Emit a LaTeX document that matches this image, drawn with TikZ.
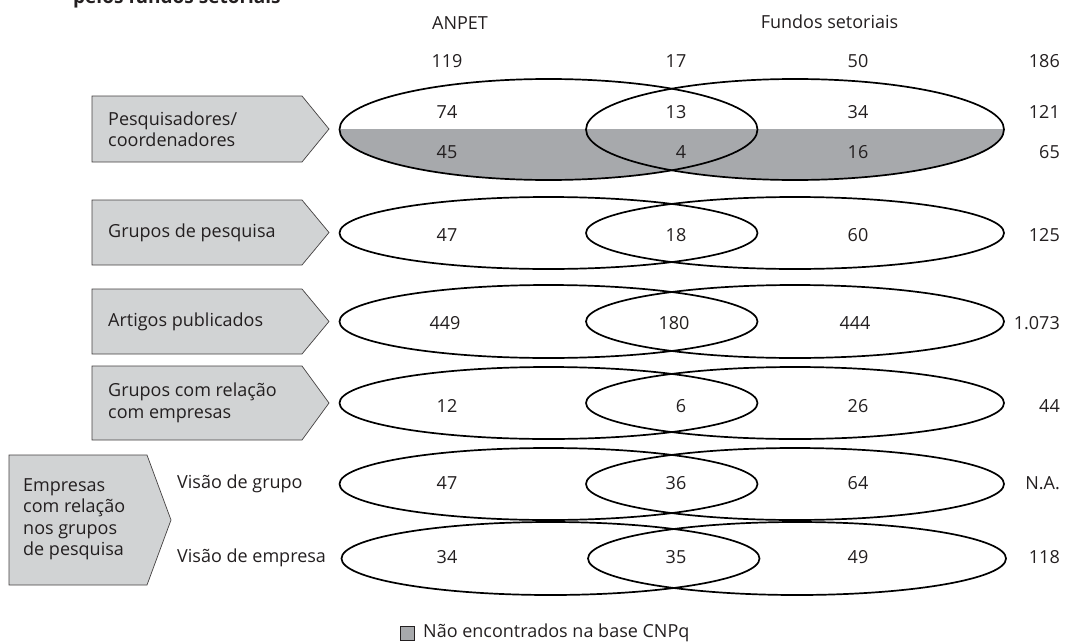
\documentclass[tikz,border=0pt]{standalone}
\usepackage{fontspec}
\setmainfont{Open Sans}
\usetikzlibrary{shapes.geometric}
\definecolor{boxgray}{HTML}{D1D3D4}
\definecolor{shadegray}{HTML}{A7A9AC}
\definecolor{inkgray}{HTML}{231F20}

\begin{document}
\begin{tikzpicture}[
    x=1pt, y=-1pt,
    every node/.style={text=inkgray, font=\fontsize{18}{21.5}\selectfont, inner sep=0pt},
    tagbox/.style={draw=inkgray!85, fill=boxgray, line width=0.7pt},
    tagtext/.style={anchor=west, align=left},
    venn/.style={draw=black, ellipse, line width=1.7pt, minimum width=418pt, minimum height=72pt},
    num/.style={anchor=base},
    total/.style={anchor=base east},
  ]
    \useasboundingbox (0,0) rectangle (1065,642);

    % title (cut at the top)
    \node[font=\fontsize{19}{22}\selectfont\bfseries, anchor=base west] (title) at (73,4) {pelos fundos setoriais};

    % column heads and totals
    \node[num] (hanpet) at (460,30) {ANPET};
    \node[num] (hfundos) at (829.5,29) {Fundos setoriais};
    \node[num]   (t1) at (447,67) {119};
    \node[num]   (t2) at (676,67) {17};
    \node[num]   (t3) at (858,67) {50};
    \node[total] (t4) at (1060,67) {186};

    % left labels
    \draw[tagbox] (92,96) -- (302,96) -- (329,129) -- (302,162) -- (92,162) -- cycle;
    \node[tagtext] (lpesq) at (108,129) {Pesquisadores/\\coordenadores};
    \draw[tagbox] (92,200) -- (302,200) -- (329,232.5) -- (302,265) -- (92,265) -- cycle;
    \node[tagtext] (lgrupos) at (108,232.5) {Grupos de pesquisa};
    \draw[tagbox] (92,289) -- (302,289) -- (329,321.5) -- (302,354) -- (92,354) -- cycle;
    \node[tagtext] (lartigos) at (108,321.5) {Artigos publicados};
    \draw[tagbox] (92,366) -- (302,366) -- (329,403) -- (302,440) -- (92,440) -- cycle;
    \node[tagtext] (lrelacao) at (108,403) {Grupos com relação\\com empresas};
    \draw[tagbox] (9,455) -- (147,455) -- (171,520) -- (147,585) -- (9,585) -- cycle;
    \node[tagtext] (lempresas) at (23,519) {Empresas\\com relação\\nos grupos\\de pesquisa};
    \node[tagtext] (vgrupo) at (177,484) {Visão de grupo};
    \node[tagtext] (vempresa) at (177,558) {Visão de empresa};

    % shaded half of first row
    \begin{scope}
      \clip (330,129.5) rectangle (1015,186);
      \fill[shadegray] (548.5,129.5) ellipse [x radius=209pt, y radius=50.5pt];
      \fill[shadegray] (795,129.5) ellipse [x radius=209pt, y radius=50.5pt];
    \end{scope}

    % ellipses
    \node[venn, minimum height=101pt] (a1) at (548.5,129.5) {};
    \node[venn, minimum height=101pt] (f1) at (795,129.5) {};
    \node[venn] (a2) at (548.5,233) {};
    \node[venn] (f2) at (795,233) {};
    \node[venn, minimum height=73pt] (a3) at (548.5,321.5) {};
    \node[venn, minimum height=73pt] (f3) at (795,321.5) {};
    \node[venn] (a4) at (548.5,403) {};
    \node[venn] (f4) at (795,403) {};
    \node[venn] (a5) at (548.5,484) {};
    \node[venn] (f5) at (795,484) {};
    \node[venn, minimum height=73pt] (a6) at (550.5,558.5) {};
    \node[venn, minimum height=73pt] (f6) at (797,558.5) {};

    % numbers
    \node[num]   (n11) at (447,118) {74};
    \node[num]   (n12) at (676,118) {13};
    \node[num]   (n13) at (858,118) {34};
    \node[total] (n14) at (1060,118) {121};
    \node[num]   (m11) at (447,158) {45};
    \node[num]   (m12) at (681,158) {4};
    \node[num]   (m13) at (858,158) {16};
    \node[total] (m14) at (1060,158) {65};

    \node[num]   (n21) at (447,241) {47};
    \node[num]   (n22) at (676,241) {18};
    \node[num]   (n23) at (858,241) {60};
    \node[total] (n24) at (1060,241) {125};

    \node[num]   (n31) at (445,329) {449};
    \node[num]   (n32) at (674,329) {180};
    \node[num]   (n33) at (855,329) {444};
    \node[total] (n34) at (1060,329) {1.073};

    \node[num]   (n41) at (447,412) {12};
    \node[num]   (n42) at (681,412) {6};
    \node[num]   (n43) at (858,412) {26};
    \node[total] (n44) at (1060,412) {44};

    \node[num]   (n51) at (447,489) {47};
    \node[num]   (n52) at (676,489) {36};
    \node[num]   (n53) at (858,489) {64};
    \node[total] (n54) at (1060,489) {N.A.};

    \node[num]   (n61) at (447,563) {34};
    \node[num]   (n62) at (676,563) {35};
    \node[num]   (n63) at (858,563) {49};
    \node[total] (n64) at (1060,563) {118};

    % legend
    \node[draw=inkgray, fill=shadegray, line width=0.6pt, minimum size=14pt] (key) at (407,633) {};
    \node[anchor=west] (keytext) at (423,633) {Não encontrados na base CNPq};
  \end{tikzpicture}
\end{document}
